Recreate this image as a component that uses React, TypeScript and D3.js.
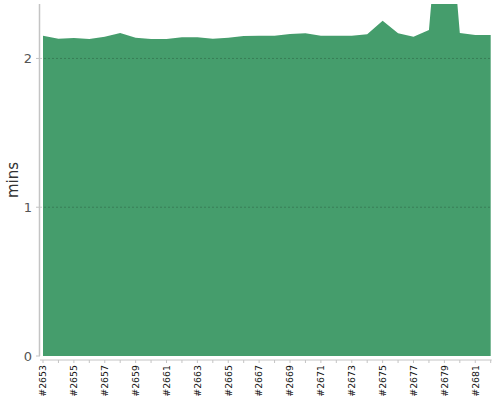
import React from "react";
import * as d3 from "d3";

const categories: string[] = [
  "#2653", "#2654", "#2655", "#2656", "#2657", "#2658", "#2659", "#2660", "#2661", "#2662",
  "#2663", "#2664", "#2665", "#2666", "#2667", "#2668", "#2669", "#2670", "#2671", "#2672",
  "#2673", "#2674", "#2675", "#2676", "#2677", "#2678", "#2679", "#2680", "#2681", "#2682",
];
const durations: number[] = [
  2.153, 2.132, 2.137, 2.13, 2.146, 2.171, 2.139, 2.13, 2.13, 2.142,
  2.142, 2.132, 2.139, 2.151, 2.153, 2.153, 2.164, 2.169, 2.153, 2.153,
  2.153, 2.162, 2.253, 2.169, 2.146, 2.191, 3.4, 2.171, 2.157, 2.157,
];
const yTicks: number[] = [0, 1, 2];
const yMax = 2.366;
const yLabel = "mins";

const W = 500;
const H = 400;
const plotLeft = 43;
const plotRight = 490.7;
const plotTop = 4;
const plotBottom = 356;
const axisX = 40;
const xAxisY = 360;
const FONT = "DejaVu Sans, sans-serif";

export default function App() {
  const x = d3.scalePoint<string>().domain(categories).range([plotLeft, plotRight]);
  const y = d3.scaleLinear().domain([0, yMax]).range([plotBottom, plotTop]);
  const area = d3
    .area<number>()
    .x((_, i) => x(categories[i]) as number)
    .y0(y(0))
    .y1((d) => y(d));

  return (
    <svg
      width={W}
      height={H}
      style={{ position: "absolute", left: 0, top: 0, display: "block" }}
    >
      <defs>
        <clipPath id="plotClip">
          <rect x={axisX} y={plotTop} width={plotRight - axisX + 1} height={plotBottom - plotTop + 1} />
        </clipPath>
      </defs>
      <rect x={0} y={0} width={W} height={H} fill="#fff" />
      <path d={area(durations) || ""} fill="#459d6c" clipPath="url(#plotClip)" />
      {/* grid lines */}
      {yTicks
        .filter((t) => t > 0)
        .map((t) => (
          <line
            key={"g" + t}
            x1={axisX}
            x2={plotRight}
            y1={y(t)}
            y2={y(t)}
            stroke="rgba(0,0,0,0.2)"
            strokeDasharray="2,2"
            strokeWidth={1}
          />
        ))}
      {/* y axis */}
      <line x1={axisX - 0.5} x2={axisX - 0.5} y1={plotTop} y2={plotBottom} stroke="#c4c4c4" strokeWidth={1.5} />
      {yTicks.map((t) => (
        <g key={"y" + t}>
          <line x1={axisX - 4} x2={axisX} y1={y(t)} y2={y(t)} stroke="#c4c4c4" />
          <text
            x={32}
            y={y(t)}
            dy="0.35em"
            textAnchor="end"
            fontFamily={FONT}
            fontSize={13}
            fill="#555"
          >
            {t}
          </text>
        </g>
      ))}
      <text
        transform={`translate(${18},${180}) rotate(-90)`}
        textAnchor="middle"
        fontFamily={FONT}
        fontSize={15}
        fill="#333"
      >
        {yLabel}
      </text>
      {/* x axis */}
      <line x1={axisX} x2={plotRight + 1} y1={xAxisY} y2={xAxisY} stroke="#c4c4c4" />
      {categories.map((c, i) => (
        <g key={c}>
          <line
            x1={x(c) as number}
            x2={x(c) as number}
            y1={xAxisY}
            y2={xAxisY + 3}
            stroke="#c4c4c4"
          />
          {i % 2 === 0 && (
            <text
              transform={`translate(${x(c)},${365}) rotate(-90)`}
              textAnchor="end"
              dy="0.35em"
              fontFamily={FONT}
              fontSize={9.4}
              fill="#111"
            >
              {c}
            </text>
          )}
        </g>
      ))}
    </svg>
  );
}
